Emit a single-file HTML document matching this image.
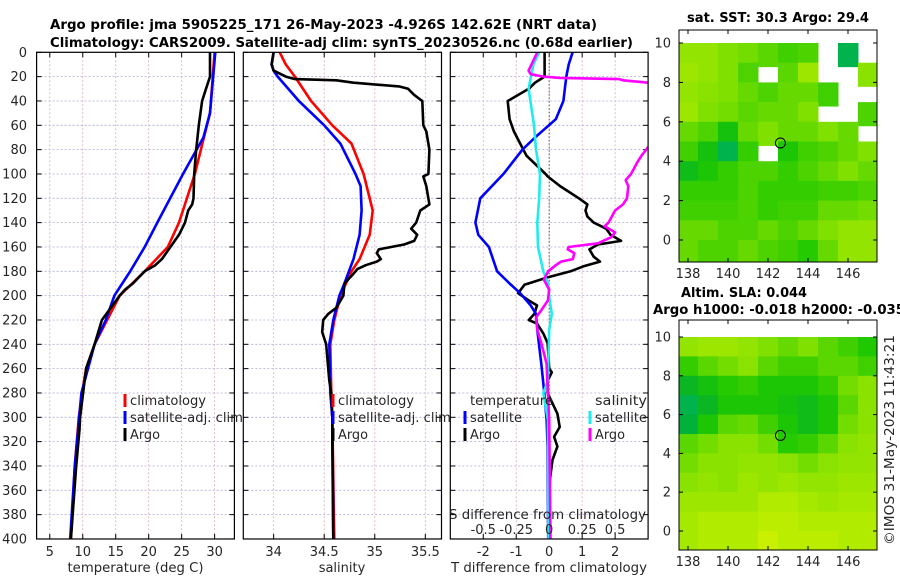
<!DOCTYPE html>
<html><head><meta charset="utf-8"><title>Argo profile</title>
<style>
html,body{margin:0;padding:0;background:#fff;}
svg{display:block;font-family:"DejaVu Sans","Liberation Sans",sans-serif;}
.tk{font-size:13px;fill:#262626;}
.tt{font-size:13.5px;font-weight:bold;fill:#000;}
</style></head>
<body>
<svg id="fig" width="900" height="580" viewBox="0 0 900 580" xmlns="http://www.w3.org/2000/svg">
<rect width="900" height="580" fill="#fff"/>
<text class="tt" x="50" y="29" textLength="547" lengthAdjust="spacingAndGlyphs">Argo profile: jma 5905225_171 26-May-2023 -4.926S 142.62E (NRT data)</text>
<text class="tt" x="50" y="47" textLength="583" lengthAdjust="spacingAndGlyphs">Climatology: CARS2009. Satellite-adj clim: synTS_20230526.nc (0.68d earlier)</text>
<text class="tt" x="778" y="22" text-anchor="middle" textLength="182" lengthAdjust="spacingAndGlyphs">sat. SST: 30.3 Argo: 29.4</text>
<text class="tt" x="681" y="297" textLength="126" lengthAdjust="spacingAndGlyphs">Altim. SLA: 0.044</text>
<text class="tt" x="653" y="314" textLength="252" lengthAdjust="spacingAndGlyphs">Argo h1000: -0.018 h2000: -0.035</text>
<text class="tk" transform="translate(894,440) rotate(-90)" text-anchor="middle" textLength="210" lengthAdjust="spacingAndGlyphs">©IMOS 31-May-2023 11:43:21</text>
<g id="plots"></g>
</svg>
<script>
// ---------- data ----------
const climDepth=[0,50,100,140,160,180,200,220,240,260,280,300,340,400];
const climTemp=[30,29.3,27,24.6,22.9,19.4,15.6,13.7,11.8,10.5,9.9,9.4,8.8,8.2];
const satDepth=[0,50,70,100,140,160,180,200,220,240,280,340,400];
const satTemp=[30.1,29.3,28.3,25.2,21.3,19.4,17.2,14.8,13.5,11.8,9.8,8.8,8.1];
const argoDepth=[0,20,30,40,60,80,100,120,125,130,140,150,160,170,175,180,185,190,195,200,220,240,260,300,310,340,400];
const argoTemp=[29.3,29.3,28.7,28.1,27.6,27.2,26.9,26.8,26.6,26,25.5,24.6,23.3,22,21,19.4,18.5,17.6,16.4,15.6,12.9,11.8,10.5,9.6,9.5,9,8.2];

const climSDepth=[0,10,20,40,60,75,100,120,130,150,170,180,200,220,240,280,300,400];
const climSal=[34.06,34.12,34.21,34.37,34.58,34.77,34.89,34.95,34.98,34.95,34.85,34.77,34.66,34.6,34.56,34.57,34.58,34.6];
const satSDepth=[0,10,15,20,40,60,75,100,110,130,150,170,190,200,220,240,280,300,400];
const satSal=[34.0,33.98,34.0,34.04,34.25,34.5,34.66,34.81,34.86,34.87,34.85,34.79,34.7,34.65,34.59,34.55,34.56,34.58,34.59];
const argoSDepth=[0,10,15,20,22,23,25,28,30,35,40,60,65,80,100,102,110,125,130,140,145,150,155,158,162,165,170,172,175,178,182,190,200,210,215,220,230,240,250,270,280,300,320,400];
const argoSal=[34.0,33.98,34.0,34.12,34.21,34.62,34.79,35.24,35.33,35.39,35.47,35.48,35.51,35.54,35.53,35.48,35.51,35.54,35.45,35.41,35.36,35.42,35.39,35.29,35.04,35.02,35.06,35.02,34.91,34.83,34.79,34.7,34.69,34.62,34.54,34.49,34.48,34.52,34.53,34.55,34.57,34.58,34.58,34.59];

const dTArgoDepth=[0,20,25,30,40,55,65,75,85,100,102,110,120,125,130,135,140,145,150,155,158,162,168,172,176,180,185,191,198,204,208,215,220,223,231,239,250,260,263,270,280,297,308,316,324,335,351,400];
const dTArgo=[-0.14,-0.14,-0.43,-0.62,-1.26,-1.2,-1.07,-0.88,-0.69,-0.11,-0.05,0.33,0.9,1.16,1.1,1.16,1.35,1.73,1.86,2.18,1.48,1.22,1.35,1.54,1.03,0.65,-0.05,-0.75,-0.94,-0.62,-0.37,-0.45,-0.62,-0.37,-0.18,-0.05,-0.02,0,0.08,-0.05,-0.05,0.25,0.32,0.15,0.25,0.1,0.02,-0.02];
const dTSatDepth=[0,10,20,40,55,70,80,100,120,140,150,160,180,190,198,208,215,231,256,280,302,324,400];
const dTSat=[0.71,0.59,0.52,0.43,0.2,-0.43,-0.81,-1.39,-2.09,-2.24,-2.15,-1.83,-1.58,-1.2,-0.88,-0.56,-0.4,-0.35,-0.24,-0.15,-0.08,-0.05,-0.03];
const dSSatDepth=[0,10,30,60,80,100,120,140,160,180,190,201,215,228,270,280,302,400];
const dSSat=[-0.076,-0.12,-0.156,-0.115,-0.1,-0.07,-0.076,-0.09,-0.085,-0.045,-0.008,0.0,0.02,0.0,-0.01,-0.045,-0.01,-0.005];
const dSArgoDepth=[0,15,18,20,21,22,23,25,40,70,78,85,90,100,105,110,120,125,130,140,143,148,152,157,160,162,165,170,172,175,180,187,195,204,212,218,228,239,256,280,302,400];
const dSArgo=[-0.09,-0.156,-0.14,-0.045,0.083,0.53,0.56,0.75,1.0,1.0,0.75,0.7,0.67,0.62,0.58,0.6,0.59,0.56,0.5,0.45,0.42,0.5,0.47,0.37,0.147,0.14,0.19,0.18,0.09,0.05,-0.008,-0.04,0,-0.01,-0.06,-0.1,-0.09,-0.06,-0.02,-0.01,0,0.01];

const depthTicks=[0,20,40,60,80,100,120,140,160,180,200,220,240,260,280,300,320,340,360,380,400];
const tempTicks=[5,10,15,20,25,30];
const salTicks=[34,34.5,35,35.5];
const salTickLabels=["34","34.5","35","35.5"];
const dTTicks=[-2,-1,0,1,2];
const dSTicks=[-0.5,-0.25,0,0.25,0.5];
const dSTickLabels=["-0.5","-0.25","0","0.25","0.5"];

const lonTicks=[138,140,142,144,146];
const latTicks=[0,2,4,6,8,10];
const mapLons=[137.5,138.5,139.5,140.5,141.5,142.5,143.5,144.5,145.5,146.5];
const mapLats=[10,9,8,7,6,5,4,3,2,1,0];
const N=null;
const sstGrid=[
[.74,.74,.7,.68,.64,.6,.62,N,.42,N],
[.76,.74,.7,.62,N,.64,.76,N,N,.72],
[.74,.72,.7,.66,.62,.66,.66,.6,N,N],
[.76,.7,.68,.64,.66,.66,.7,N,N,.62],
[.66,.62,.52,.66,.7,.66,.66,.7,.66,N],
[.6,.52,.42,.58,N,.54,.6,.62,.66,.7],
[.5,.54,.58,.62,.62,.58,.62,.66,.7,.66],
[.58,.58,.58,.62,.58,.58,.58,.6,.6,.62],
[.6,.6,.6,.62,.58,.6,.6,.66,.66,.68],
[.66,.66,.62,.62,.66,.62,.66,.7,.74,.74],
[.66,.62,.62,.66,.62,.6,.56,.66,.74,.74]];
const slaGrid=[
[.74,.76,.76,.74,.7,.66,.7,.64,.6,.55],
[.58,.64,.68,.72,.64,.6,.6,.64,.64,.6],
[.48,.52,.56,.58,.54,.54,.54,.58,.68,.72],
[.42,.48,.54,.54,.54,.52,.5,.54,.64,.72],
[.44,.54,.64,.66,.6,.54,.5,.54,.68,.72],
[.64,.68,.72,.72,.68,.56,.58,.64,.72,.74],
[.68,.72,.72,.74,.74,.72,.68,.72,.74,.74],
[.72,.74,.72,.76,.74,.76,.74,.74,.76,.76],
[.76,.76,.76,.76,.8,.8,.78,.76,.78,.78],
[.78,.8,.8,.8,.82,.82,.8,.8,.8,.8],
[.78,.8,.8,.8,.85,.82,.82,.82,.8,.8]];
const argoLon=142.62, argoLat=4.926;

// ---------- helpers ----------
const NS="http://www.w3.org/2000/svg";
const root=document.getElementById('plots');
function mk(tag,attrs,parent){const e=document.createElementNS(NS,tag);for(const k in attrs)e.setAttribute(k,attrs[k]);(parent||root).appendChild(e);return e;}
const Y0=52.3,YS=1.2167,YB=52.3+400*1.2167;
function yD(d){return Y0+d*YS;}
function lin(a,b,x0,x1){return v=>x0+(v-a)/(b-a)*(x1-x0);}
const P=[{x0:36.6,x1:234.4},{x0:243.3,x1:441.5},{x0:450.3,x1:648.1}];
const xT=lin(3,33,P[0].x0,P[0].x1);
const xS=lin(33.7,35.66,P[1].x0,P[1].x1);
const xDT=lin(-3,3,P[2].x0,P[2].x1);
const xDS=lin(-0.75,0.75,P[2].x0,P[2].x1);

function line(g,xs,ds,fx,color,name){
  const pts=xs.map((v,i)=>fx(v).toFixed(1)+','+yD(ds[i]).toFixed(1)).join(' ');
  const e=mk('polyline',{points:pts,fill:'none',stroke:color,'stroke-width':2.6,'stroke-linejoin':'round'},g);
  
  
}

P.forEach((p,i)=>{
  const g=mk('g',{});
  
  
  p.g=g;
  const cp=mk('clipPath',{id:'cp'+i},g);
  mk('rect',{x:p.x0,y:Y0,width:p.x1-p.x0,height:YB-Y0},cp);
  depthTicks.forEach(d=>{
    mk('line',{x1:p.x0,x2:p.x1,y1:yD(d),y2:yD(d),stroke:'#a8acd8','stroke-width':0.8,'stroke-dasharray':'2,2'},g);
    mk('line',{x1:p.x0,x2:p.x0+5,y1:yD(d),y2:yD(d),stroke:'#000','stroke-width':1},g);
    mk('line',{x1:p.x1,x2:p.x1-5,y1:yD(d),y2:yD(d),stroke:'#000','stroke-width':1},g);
  });
});
depthTicks.forEach(d=>{
  const t=mk('text',{x:27,y:yD(d)+4.5,'text-anchor':'end',class:'tk'});
  t.textContent=d;
  
  
});
function xticks(p,vals,labels,fx,ylab){
  vals.forEach((v,i)=>{
    const x=fx(v);
    mk('line',{x1:x,x2:x,y1:Y0,y2:YB,stroke:'#d8b0b8','stroke-width':0.8,'stroke-dasharray':'2,2'},p.g);
    mk('line',{x1:x,x2:x,y1:YB,y2:YB-5,stroke:'#000'},p.g);
    mk('line',{x1:x,x2:x,y1:Y0,y2:Y0+5,stroke:'#000'},p.g);
    const t=mk('text',{x:x,y:ylab,'text-anchor':'middle',class:'tk'},p.g);
    t.textContent=labels[i];
    
    
  });
}
xticks(P[0],tempTicks,tempTicks.map(String),xT,556);
xticks(P[1],salTicks,salTickLabels,xS,556);
xticks(P[2],dTTicks,dTTicks.map(String),xDT,556);
mk('line',{x1:xDT(0),x2:xDT(0),y1:Y0,y2:YB,stroke:'#6a5030','stroke-width':1,'stroke-dasharray':'1.5,2'},P[2].g);

const g1=mk('g',{'clip-path':'url(#cp0)'},P[0].g);
line(g1,climTemp,climDepth,xT,'#ff0000','climatology-temp-line');
line(g1,satTemp,satDepth,xT,'#0000ff','satellite-temp-line');
line(g1,argoTemp,argoDepth,xT,'#000000','argo-temp-line');
const g2=mk('g',{'clip-path':'url(#cp1)'},P[1].g);
line(g2,climSal,climSDepth,xS,'#ff0000','climatology-salinity-line');
line(g2,satSal,satSDepth,xS,'#0000ff','satellite-salinity-line');
line(g2,argoSal,argoSDepth,xS,'#000000','argo-salinity-line');
const g3=mk('g',{'clip-path':'url(#cp2)'},P[2].g);
line(g3,dTArgo,dTArgoDepth,xDT,'#000000','argo-temp-diff-line');
line(g3,dTSat,dTSatDepth,xDT,'#0000ff','satellite-temp-diff-line');
line(g3,dSSat,dSSatDepth,xDS,'#20ecec','satellite-salinity-diff-line');
line(g3,dSArgo,dSArgoDepth,xDS,'#ff00ff','argo-salinity-diff-line');

dSTicks.forEach((v,i)=>{
  const t=mk('text',{x:xDS(v),y:534,'text-anchor':'middle',class:'tk'},P[2].g);
  t.textContent=dSTickLabels[i];
  
  
});
function txt(x,y,s,name,anchor,len){
  const t=mk('text',{x:x,y:y,class:'tk','text-anchor':anchor||'start'});
  if(len){t.setAttribute('textLength',len);t.setAttribute('lengthAdjust','spacingAndGlyphs');}
  t.textContent=s;
  
  
  return t;
}
txt(449,519,'S difference from climatology','s-diff-axis-title','start',197);
txt(135.5,572,'temperature (deg C)','temperature-axis-title','middle',136);
txt(342,572,'salinity','salinity-axis-title','middle');
txt(549,572,'T difference from climatology','t-diff-axis-title','middle',196);
P.forEach(p=>mk('rect',{x:p.x0,y:Y0,width:p.x1-p.x0,height:YB-Y0,fill:'none',stroke:'#000','stroke-width':1.2},p.g));

function legend(x,y,color,label,name,len){
  mk('rect',{x:x-6.5,y:y-11,width:3,height:13,fill:color});
  txt(x,y,label,name,'start',len);
}
legend(130,405,'#ff0000','climatology','legend-climatology-1',76);
legend(130,422,'#0000ff','satellite-adj. clim','legend-satellite-1',113);
legend(130,439,'#000000','Argo','legend-argo-1',30);
legend(338,405,'#ff0000','climatology','legend-climatology-2',76);
legend(338,422,'#0000ff','satellite-adj. clim','legend-satellite-2',113);
legend(338,439,'#000000','Argo','legend-argo-2',30);
txt(470,405,'temperature','legend-temperature-header','start',83);
legend(470,422,'#0000ff','satellite','legend-temp-satellite',52);
legend(470,439,'#000000','Argo','legend-temp-argo',30);
txt(595,405,'salinity','legend-salinity-header','start',52);
legend(595,422,'#20ecec','satellite','legend-sal-satellite',52);
legend(595,439,'#ff00ff','Argo','legend-sal-argo',30);

// ---------- maps ----------
const stops=[[0,[0,0,128]],[0.2,[0,80,224]],[0.3,[0,192,192]],[0.45,[0,176,48]],[0.55,[32,200,0]],[0.7,[128,224,0]],[0.85,[200,240,0]],[1,[240,232,0]]];
function cmap(v){
  for(let i=1;i<stops.length;i++){if(v<=stops[i][0]){const a=stops[i-1],b=stops[i],f=(v-a[0])/(b[0]-a[0]);return 'rgb('+a[1].map((c,k)=>Math.round(c+(b[1][k]-c)*f)).join(',')+')';}}
  return 'rgb(240,232,0)';
}
function drawMap(id,box,lat0y,latS,grid,name){
  const g=mk('g',{});
  
  
  const lonX=l=>688+(l-138)*20;
  const latY=la=>lat0y-la*latS;
  const cp=mk('clipPath',{id:id},g);
  mk('rect',{x:box.x0,y:box.y0,width:box.x1-box.x0,height:box.y1-box.y0},cp);
  const cg=mk('g',{'clip-path':'url(#'+id+')'},g);
  grid.forEach((row,j)=>row.forEach((v,i)=>{
    if(v===null)return;
    const x0=lonX(mapLons[i]),x1=lonX(mapLons[i]+1),yT=latY(mapLats[j]),yBt=latY(mapLats[j]-1.2);
    const r=mk('rect',{x:x0,y:yT,width:x1-x0+0.5,height:yBt-yT+0.5,fill:cmap(v)},cg);
    
    
  }));
  const c=mk('circle',{cx:lonX(argoLon),cy:latY(argoLat),r:5,fill:'none',stroke:'#000','stroke-width':1},g);
  
  
  mk('rect',{x:box.x0,y:box.y0,width:box.x1-box.x0,height:box.y1-box.y0,fill:'none',stroke:'#000','stroke-width':1},g);
  lonTicks.forEach(l=>{
    const x=lonX(l);
    mk('line',{x1:x,x2:x,y1:box.y1,y2:box.y1-4,stroke:'#000'},g);
    mk('line',{x1:x,x2:x,y1:box.y0,y2:box.y0+4,stroke:'#000'},g);
    const t=mk('text',{x:x,y:box.y1+16,'text-anchor':'middle',class:'tk'},g);
    t.textContent=l;
    
    
  });
  latTicks.forEach(la=>{
    const y=latY(la);
    mk('line',{x1:box.x0,x2:box.x0+4,y1:y,y2:y,stroke:'#000'},g);
    mk('line',{x1:box.x1,x2:box.x1-4,y1:y,y2:y,stroke:'#000'},g);
    const t=mk('text',{x:box.x0-8,y:y+4.5,'text-anchor':'end',class:'tk'},g);
    t.textContent=la;
    
    
  });
}
drawMap('mc1',{x0:679,x1:877,y0:30,y1:262},240,19.7,sstGrid,'sst-map');
drawMap('mc2',{x0:679,x1:877,y0:320,y1:550},531,19.4,slaGrid,'sla-map');
</script>
</body></html>
